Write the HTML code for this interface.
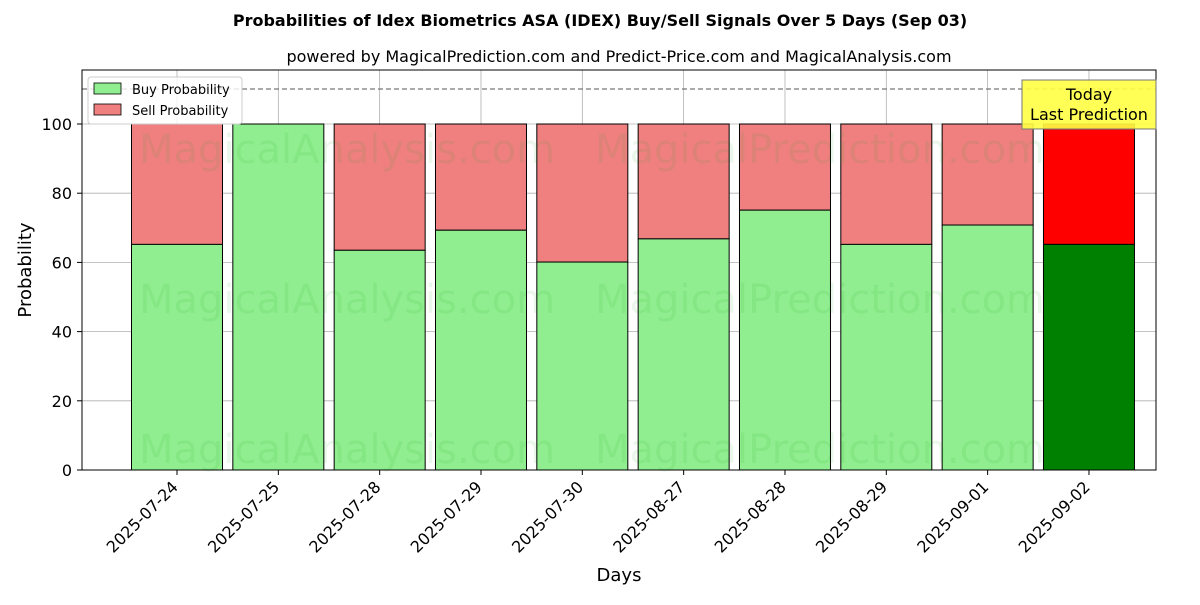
<!DOCTYPE html>
<html><head><meta charset="utf-8"><style>
body{margin:0;background:#fff;font-family:"Liberation Sans","DejaVu Sans",sans-serif}
</style></head><body>
<svg id="chart" width="1200" height="600" xmlns="http://www.w3.org/2000/svg" font-family="DejaVu Sans, Liberation Sans, sans-serif">
<text x="600" y="26" text-anchor="middle" font-size="16" font-weight="bold">Probabilities of Idex Biometrics ASA (IDEX) Buy/Sell Signals Over 5 Days (Sep 03)</text>
<text x="619" y="62" text-anchor="middle" font-size="16">powered by MagicalPrediction.com and Predict-Price.com and MagicalAnalysis.com</text>
<g id="grid"></g>
<g id="bars"></g>
<g id="wm" font-size="40" fill="rgba(0,150,0,0.08)">
<text x="347" y="163" text-anchor="middle">MagicalAnalysis.com</text>
<text x="820" y="163" text-anchor="middle">MagicalPrediction.com</text>
<text x="347" y="313" text-anchor="middle">MagicalAnalysis.com</text>
<text x="820" y="313" text-anchor="middle">MagicalPrediction.com</text>
<text x="347" y="463" text-anchor="middle">MagicalAnalysis.com</text>
<text x="820" y="463" text-anchor="middle">MagicalPrediction.com</text>
</g>
<line x1="82" x2="1156" y1="89" y2="89" stroke="#777" stroke-dasharray="5,3" stroke-width="1.2"/>
<rect x="82" y="70" width="1074" height="400" fill="none" stroke="#000" stroke-width="1"/>
<g id="axes"></g>
<text transform="translate(31,270) rotate(-90)" text-anchor="middle" font-size="18">Probability</text>
<text x="619" y="581" text-anchor="middle" font-size="18">Days</text>
<g>
<rect x="88" y="77" width="154" height="47" fill="#fff" fill-opacity="0.8" stroke="#ccc" rx="3"/>
<rect x="94" y="83" width="27" height="11" fill="#90ee90" stroke="#000" stroke-width="0.8"/>
<text x="132" y="94" font-size="13">Buy Probability</text>
<rect x="94" y="104" width="27" height="11" fill="#f08080" stroke="#000" stroke-width="0.8"/>
<text x="132" y="115" font-size="13">Sell Probability</text>
</g>
<g>
<rect x="1022" y="80" width="134" height="49" fill="#ffff44" fill-opacity="0.9" stroke="#777"/>
<text x="1089" y="100" text-anchor="middle" font-size="16">Today</text>
<text x="1089" y="120" text-anchor="middle" font-size="16">Last Prediction</text>
</g>
</svg>
<script>
const categories=["2025-07-24","2025-07-25","2025-07-28","2025-07-29","2025-07-30","2025-08-27","2025-08-28","2025-08-29","2025-09-01","2025-09-02"];
const buyValues=[65.2,100,63.5,69.3,60.1,66.8,75.1,65.2,70.8,65.2];
const yTicks=[0,20,40,60,80,100];
const NS="http://www.w3.org/2000/svg";
const xs=i=>177+101.33*i, ys=v=>470-3.46*v, bw=91;
function mk(t,a,p){const e=document.createElementNS(NS,t);for(const k in a)e.setAttribute(k,a[k]);p.appendChild(e);return e;}
const grid=document.getElementById('grid'),bars=document.getElementById('bars'),axes=document.getElementById('axes');
yTicks.forEach(v=>{
 const l=mk('line',{x1:82,x2:1156,y1:ys(v),y2:ys(v),stroke:'#b0b0b0','stroke-width':0.8},grid);
 
 
 mk('line',{x1:77,x2:82,y1:ys(v),y2:ys(v),stroke:'#000'},axes);
 const t=mk('text',{x:72,y:ys(v)+6,'text-anchor':'end','font-size':16},axes);t.textContent=v;
 
 
});
categories.forEach((c,i)=>{
 const x=xs(i),last=i===categories.length-1,b=buyValues[i];
 const gl=mk('line',{x1:x,x2:x,y1:70,y2:470,stroke:'#b0b0b0','stroke-width':0.8},grid);
 
 
 const s=mk('rect',{x:x-bw/2,y:ys(100),width:bw,height:ys(b)-ys(100),fill:last?'#ff0000':'#f08080',stroke:'#000','stroke-width':1},bars);
 
 
 const r=mk('rect',{x:x-bw/2,y:ys(b),width:bw,height:ys(0)-ys(b),fill:last?'#008000':'#90ee90',stroke:'#000','stroke-width':1},bars);
 
 
 mk('line',{x1:x,x2:x,y1:470,y2:475,stroke:'#000'},axes);
 const t=mk('text',{x:x+2,y:488,'text-anchor':'end','font-size':16,transform:`rotate(-45 ${x+2} 488)`},axes);t.textContent=c;
 
 
});
</script>
</body></html>
